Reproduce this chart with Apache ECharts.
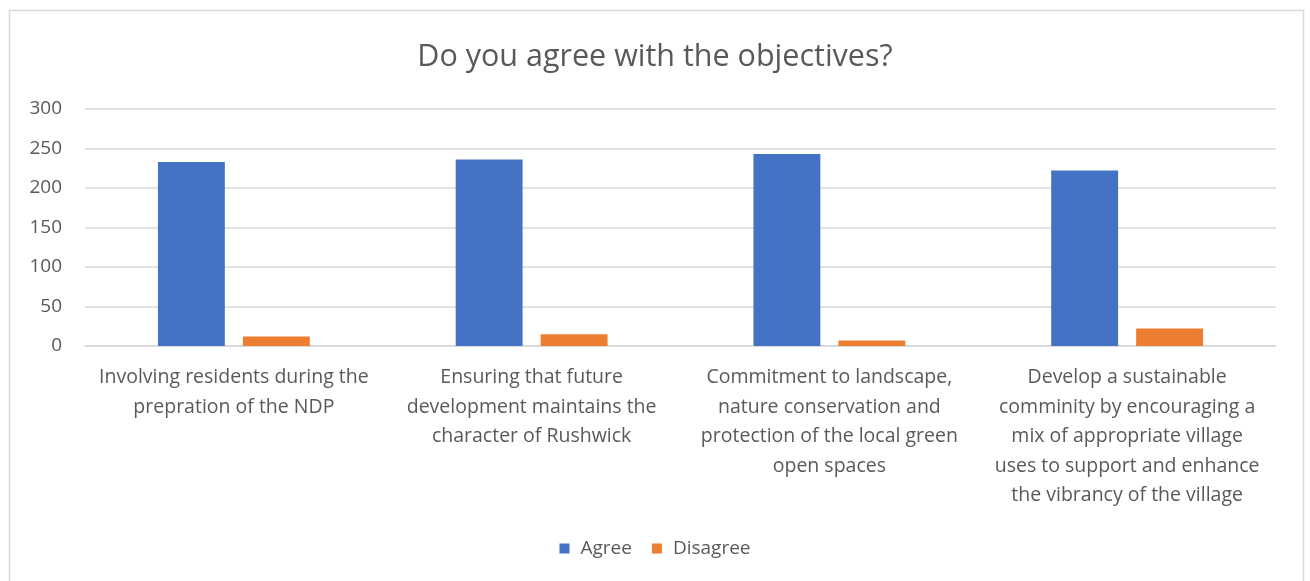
<!DOCTYPE html>
<html>
<head>
<meta charset="utf-8">
<script src="https://cdn.jsdelivr.net/npm/echarts@6/dist/echarts.min.js"></script>
<style>
  html, body { margin: 0; padding: 0; background: #ffffff; }
  #chart { width: 1310px; height: 581px; }
</style>
</head>
<body>
<div id="chart"></div>
<script>
// Survey responses per objective
const categories = [
  'Involving residents during the\nprepration of the NDP',
  'Ensuring that future\ndevelopment maintains the\ncharacter of Rushwick',
  'Commitment to landscape,\nnature conservation and\nprotection of the local green\nopen spaces',
  'Develop a sustainable\ncomminity by encouraging a\nmix of appropriate village\nuses to support and enhance\nthe vibrancy of the village'
];
const agree = [233, 236, 243, 222];
const disagree = [12, 15, 7, 22];
const yTicks = { min: 0, max: 300, interval: 50 };

const FONT = '"Open Sans", "Noto Sans", sans-serif';
const TEXT = '#595959';

const chart = echarts.init(document.getElementById('chart'), null, { renderer: 'canvas' });
chart.setOption({
  animation: false,
  backgroundColor: '#ffffff',
  graphic: [{
    type: 'rect',
    shape: { x: 9.5, y: 10.5, width: 1294, height: 580 },
    style: { fill: 'none', stroke: '#d9d9d9', lineWidth: 1.5 },
    silent: true
  }],
  title: {
    text: 'Do you agree with the objectives?',
    left: 'center',
    top: 37,
    textStyle: { fontFamily: FONT, fontSize: 30.5, fontWeight: 'normal', color: TEXT }
  },
  legend: {
    bottom: 18,
    left: 'center',
    itemWidth: 10,
    itemHeight: 10,
    itemGap: 20,
    icon: 'rect',
    textStyle: { fontFamily: FONT, fontSize: 19, color: TEXT, padding: [0, 0, 0, 6] },
    data: ['Agree', 'Disagree']
  },
  grid: { left: 85, right: 34, top: 109, bottom: 235, containLabel: false },
  xAxis: {
    type: 'category',
    data: categories,
    axisLine: { lineStyle: { color: '#d9d9d9', width: 1.5 } },
    axisTick: { show: false },
    axisLabel: {
      interval: 0,
      margin: 17,
      fontFamily: FONT,
      fontSize: 19.5,
      lineHeight: 29.5,
      color: TEXT,
      align: 'center'
    }
  },
  yAxis: {
    type: 'value',
    min: yTicks.min,
    max: yTicks.max,
    interval: yTicks.interval,
    axisLine: { show: false },
    axisTick: { show: false },
    axisLabel: { fontFamily: FONT, fontSize: 19, color: TEXT, margin: 23 },
    splitLine: { lineStyle: { color: '#d9d9d9', width: 1.5 } }
  },
  series: [
    {
      name: 'Agree',
      type: 'bar',
      data: agree,
      barGap: '27%',
      barCategoryGap: '49%',
      itemStyle: { color: '#4472c4' }
    },
    {
      name: 'Disagree',
      type: 'bar',
      data: disagree,
      itemStyle: { color: '#ed7d31' }
    }
  ]
});
</script>
</body>
</html>
